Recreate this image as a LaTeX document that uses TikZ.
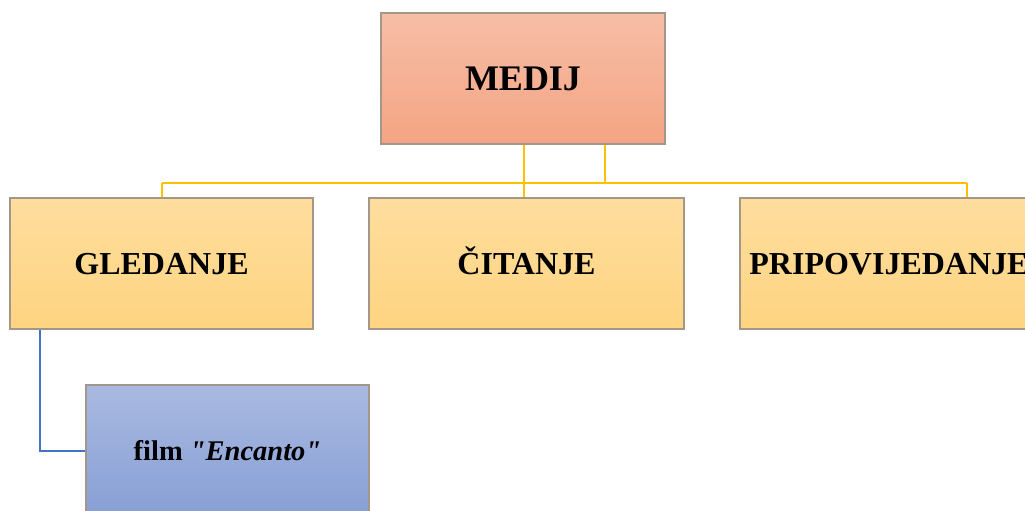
\documentclass[tikz,border=0pt]{standalone}
\usepackage{fontspec}
\setmainfont{Liberation Serif}[Ligatures=TeXOff]
\begin{document}
\begin{tikzpicture}[x=1pt,y=-1pt,
  boxbase/.style={draw=boxborder, line width=1.3pt, inner sep=0pt, text depth=0pt},
  topbox/.style={boxbase, top color=medtop, bottom color=medbot, minimum width=284pt, minimum height=131pt, text height=23.8pt, font=\fontsize{36}{40}\selectfont\bfseries},
  midbox/.style={boxbase, top color=midtop, bottom color=midbot, minimum width=303pt, minimum height=131pt, text height=21.2pt, font=\fontsize{32}{36}\selectfont\bfseries},
  lowbox/.style={boxbase, top color=lowtop, bottom color=lowbot, minimum width=283pt, minimum height=132pt, text height=18.9pt, font=\fontsize{28.5}{32}\selectfont\bfseries},
  yel/.style={draw=linkyellow, line width=2pt},
  blu/.style={draw=linkblue, line width=2pt}]
\definecolor{boxborder}{HTML}{A3978A}
\definecolor{medtop}{HTML}{F6BEA6}
\definecolor{medbot}{HTML}{F4A483}
\definecolor{midtop}{HTML}{FEDD9E}
\definecolor{midbot}{HTML}{FED480}
\definecolor{lowtop}{HTML}{A9B9E1}
\definecolor{lowbot}{HTML}{889FD5}
\definecolor{linkyellow}{HTML}{FFC000}
\definecolor{linkblue}{HTML}{4472C4}
\useasboundingbox (0,0) rectangle (1025,511);
\clip (0,0) rectangle (1025,511);

\node[topbox] (medij) at (523,78.5) {MEDIJ};
\node[midbox] (gled) at (161.5,263.5) {GLEDANJE};
\node[midbox, minimum width=315pt] (cit) at (526.5,263.5) {ČITANJE};
\node[midbox, minimum width=298pt] (prip) at (889,263.5) {PRIPOVIJEDANJE};
\node[lowbox] (film) at (227.5,451) {film \textit{"Encanto"}};

\coordinate (jmid) at (524,183);
\coordinate (jright) at (605,183);
\coordinate (hl) at (162,183);
\coordinate (hr) at (967,183);
\coordinate (bl) at (40,0);

\draw[yel] (hl) -- (hr);
\draw[yel] (medij.south -| jmid) -- (cit.north -| jmid);
\draw[yel] (medij.south -| jright) -- (jright);
\draw[yel] (gled.north -| hl) -- (hl);
\draw[yel] (prip.north -| hr) -- (hr);
\draw[blu] (gled.south -| bl) |- (film.west);
\end{tikzpicture}
\end{document}
